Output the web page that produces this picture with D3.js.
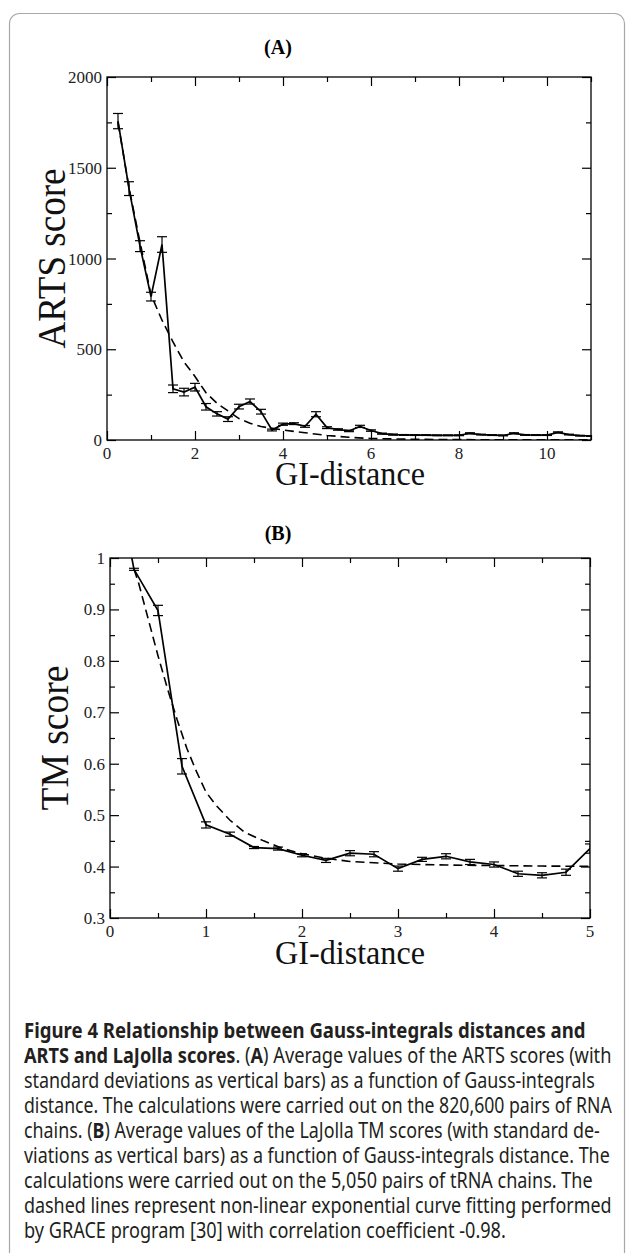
<!DOCTYPE html>
<html><head><meta charset="utf-8">
<script src="https://cdn.jsdelivr.net/npm/d3@7"></script>
<style>
html,body{margin:0;padding:0;background:#fff;}
svg{display:block;}
</style></head>
<body>
<script>
// ---------- Panel A data (ARTS score vs GI-distance) ----------
const xA = [0.25,0.5,0.75,1,1.25,1.5,1.75,2,2.25,2.5,2.75,3,3.25,3.5,3.75,4,4.25,4.5,4.75,5,5.25,5.5,5.75,6,6.25,6.5,6.75,7,7.25,7.5,7.75,8,8.25,8.5,8.75,9,9.25,9.5,9.75,10,10.25,10.5,10.75,11];
const meanA = [1757,1385,1068,790,1077,282,264,291,183,144,115,184,212,156,55,87,90,75,142,68,58,50,75,52,35,30,28,27,27,26,26,26,37,30,27,25,37,28,27,27,42,30,24,22];
const sdA = [42,38,30,24,43,21,21,21,18,12,13,13,14,13,5,6,5,5,14,5,4,4,6,4,3,3,2,2,2,2,2,2,3,2,2,2,3,2,2,2,3,2,2,2];
const fitXA = [0.25,0.5,0.75,1,1.25,1.5,1.75,2,2.25,2.5,2.75,3,3.25,3.5,4,4.5,5,5.5,6,7,8,9,10,11];
const fitA = [1750,1390,1090,800,660,540,430,350,260,202,160,118,92,74,55,40,25,15,8,4,2,1,1,1];
const xTicksA = [0,2,4,6,8,10];
const xMinorA = [1,3,5,7,9,11];
const yTicksA = [0,500,1000,1500,2000];
const yMinorA = [250,750,1250,1750];

// ---------- Panel B data (TM score vs GI-distance) ----------
const xB = [0,0.25,0.5,0.75,1,1.25,1.5,1.75,2,2.25,2.5,2.75,3,3.25,3.5,3.75,4,4.25,4.5,4.75,5];
const meanB = [1.22,0.978,0.898,0.595,0.481,0.463,0.437,0.435,0.422,0.412,0.426,0.424,0.396,0.414,0.420,0.409,0.404,0.386,0.383,0.389,0.435];
const sdB = [0,0.002,0.010,0.015,0.006,0.004,0.002,0.003,0.003,0.004,0.005,0.005,0.005,0.004,0.005,0.005,0.005,0.005,0.005,0.006,0.009];
const fitXB = [0.25,0.3,0.4,0.5,0.6,0.7,0.8,0.9,1.0,1.1,1.25,1.4,1.6,1.8,2.0,2.25,2.5,3,3.5,4,4.5,5];
const fitB = [0.978,0.95,0.88,0.81,0.745,0.685,0.63,0.585,0.545,0.52,0.49,0.467,0.45,0.435,0.425,0.416,0.41,0.405,0.403,0.402,0.401,0.4005];
const xTicksB = [0,1,2,3,4,5];
const xMinorB = [0.5,1.5,2.5,3.5,4.5];
const yTicksB = [0.3,0.4,0.5,0.6,0.7,0.8,0.9,1.0];
const yMinorB = [0.35,0.45,0.55,0.65,0.75,0.85,0.95];

// ---------- Caption ----------
const captionLines = [
  [["Figure 4 Relationship between Gauss-integrals distances and",1]],
  [["ARTS and LaJolla scores",1],[". (",0],["A",1],[") Average values of the ARTS scores (with",0]],
  [["standard deviations as vertical bars) as a function of Gauss-integrals",0]],
  [["distance. The calculations were carried out on the 820,600 pairs of RNA",0]],
  [["chains. (",0],["B",1],[") Average values of the LaJolla TM scores (with standard de-",0]],
  [["viations as vertical bars) as a function of Gauss-integrals distance. The",0]],
  [["calculations were carried out on the 5,050 pairs of tRNA chains. The",0]],
  [["dashed lines represent non-linear exponential curve fitting performed",0]],
  [["by GRACE program [30] with correlation coefficient -0.98.",0]]
];
const captionWidths = [562,588,571,588,576,586,569,588,482];

const W = 626, H = 1253;
const svg = d3.select("body").append("svg").attr("width", W).attr("height", H);
const serif = "'Liberation Serif','Times New Roman',serif";

svg.append("rect").attr("x",9.5).attr("y",13.5).attr("width",615).attr("height",1270)
  .attr("rx",10).attr("fill","none").attr("stroke","#a8a8a8").attr("stroke-width",1.2);

function panel(cfg){
  const x = d3.scaleLinear().domain(cfg.xDomain).range([cfg.left, cfg.right]);
  const y = d3.scaleLinear().domain(cfg.yDomain).range([cfg.bottom, cfg.top]);
  const g = svg.append("g");
  const clipId = "clip" + cfg.id;
  svg.append("clipPath").attr("id", clipId).append("rect")
    .attr("x", cfg.left).attr("y", cfg.top).attr("width", cfg.right-cfg.left).attr("height", cfg.bottom-cfg.top);

  g.append("rect").attr("x",cfg.left).attr("y",cfg.top).attr("width",cfg.right-cfg.left)
    .attr("height",cfg.bottom-cfg.top).attr("fill","none").attr("stroke","#000").attr("stroke-width",1.3);

  const maj = 9, mnr = 5;
  const axes = [
    [d3.axisBottom(x).tickValues(cfg.xTicks).tickSize(-maj), `translate(0,${cfg.bottom})`],
    [d3.axisBottom(x).tickValues(cfg.xMinor).tickSize(-mnr), `translate(0,${cfg.bottom})`],
    [d3.axisTop(x).tickValues(cfg.xTicks).tickSize(-maj), `translate(0,${cfg.top})`],
    [d3.axisTop(x).tickValues(cfg.xMinor).tickSize(-mnr), `translate(0,${cfg.top})`],
    [d3.axisLeft(y).tickValues(cfg.yTicks).tickSize(-maj), `translate(${cfg.left},0)`],
    [d3.axisLeft(y).tickValues(cfg.yMinor).tickSize(-mnr), `translate(${cfg.left},0)`],
    [d3.axisRight(y).tickValues(cfg.yTicks).tickSize(-maj), `translate(${cfg.right},0)`],
    [d3.axisRight(y).tickValues(cfg.yMinor).tickSize(-mnr), `translate(${cfg.right},0)`]
  ];
  axes.forEach(([ax,tr])=>{
    const a = g.append("g").attr("transform",tr).call(ax.tickFormat(""));
    a.select(".domain").remove();
    a.selectAll("line").attr("stroke","#000").attr("stroke-width",1.2);
  });

  g.selectAll(null).data(cfg.xTicks).enter().append("text")
    .attr("x", d=>x(d)).attr("y", cfg.bottom+19).attr("text-anchor","middle")
    .attr("font-family",serif).attr("font-size",17).attr("fill","#222").text(d=>cfg.xFmt(d));
  g.selectAll(null).data(cfg.yTicks).enter().append("text")
    .attr("x", cfg.left-5).attr("y", d=>y(d)+6).attr("text-anchor","end")
    .attr("font-family",serif).attr("font-size",17).attr("fill","#222").text(d=>cfg.yFmt(d));

  g.append("text").attr("x",278).attr("y",cfg.titleY).attr("text-anchor","middle")
    .attr("font-family",serif).attr("font-weight","bold").attr("font-size",20).text(cfg.title);
  g.append("text").attr("x",350).attr("y",cfg.xTitleY).attr("text-anchor","middle")
    .attr("font-family",serif).attr("font-size",34).attr("textLength",150).attr("lengthAdjust","spacingAndGlyphs")
    .attr("fill","#111").text("GI-distance");
  const cy = (cfg.top+cfg.bottom)/2;
  g.append("text").attr("transform",`translate(${cfg.yTitleX},${cy}) rotate(-90)`).attr("text-anchor","middle")
    .attr("font-family",serif).attr("font-size",40).attr("textLength",cfg.yTitleLen).attr("lengthAdjust","spacingAndGlyphs")
    .attr("fill","#111").text(cfg.yTitle);

  const data = cfg.xs.map((v,i)=>({x:v, m:cfg.mean[i], s:cfg.sd[i]}));
  const fit = cfg.fitX.map((v,i)=>({x:v, y:cfg.fit[i]}));
  const pg = g.append("g").attr("clip-path",`url(#${clipId})`);
  pg.append("path").datum(fit).attr("fill","none").attr("stroke","#000").attr("stroke-width",1.6)
    .attr("stroke-dasharray","9,5").attr("d", d3.line().x(d=>x(d.x)).y(d=>y(d.y)));
  pg.append("path").datum(data).attr("fill","none").attr("stroke","#000").attr("stroke-width",1.7)
    .attr("d", d3.line().x(d=>x(d.x)).y(d=>y(d.m)));
  const eb = pg.selectAll(null).data(data.filter(d=>d.s>0)).enter().append("g")
    .attr("stroke","#000").attr("stroke-width",1.2);
  eb.append("line").attr("x1",d=>x(d.x)).attr("x2",d=>x(d.x)).attr("y1",d=>y(d.m-d.s)).attr("y2",d=>y(d.m+d.s));
  eb.append("line").attr("x1",d=>x(d.x)-5).attr("x2",d=>x(d.x)+5).attr("y1",d=>y(d.m+d.s)).attr("y2",d=>y(d.m+d.s));
  eb.append("line").attr("x1",d=>x(d.x)-5).attr("x2",d=>x(d.x)+5).attr("y1",d=>y(d.m-d.s)).attr("y2",d=>y(d.m-d.s));
}

panel({id:"A", left:107, right:591, top:77, bottom:440, xDomain:[0,11], yDomain:[0,2000],
  xTicks:xTicksA, xMinor:xMinorA, yTicks:yTicksA, yMinor:yMinorA,
  xFmt:d=>String(d), yFmt:d=>String(d), title:"(A)", titleY:54, xTitleY:485,
  yTitle:"ARTS score", yTitleX:65, yTitleLen:180,
  xs:xA, mean:meanA, sd:sdA, fitX:fitXA, fit:fitA});

panel({id:"B", left:110, right:590, top:558, bottom:918, xDomain:[0,5], yDomain:[0.3,1.0],
  xTicks:xTicksB, xMinor:xMinorB, yTicks:yTicksB, yMinor:yMinorB,
  xFmt:d=>String(d), yFmt:d=>(d===1?"1":d.toFixed(1)), title:"(B)", titleY:540, xTitleY:964,
  yTitle:"TM score", yTitleX:68, yTitleLen:145,
  xs:xB, mean:meanB, sd:sdB, fitX:fitXB, fit:fitB});

// caption: each line measured, then scaled horizontally to the reference width
const cap = svg.append("g");
captionLines.forEach((segs,i)=>{
  const t = cap.append("text").attr("x",0).attr("y",0)
    .attr("font-family","'Noto Sans','Open Sans',sans-serif").attr("font-size",21).attr("fill","#231f20");
  segs.forEach(([s,b])=>{
    t.append("tspan").attr("font-weight", b ? "bold" : "normal").text(s);
  });
  const w = t.node().getComputedTextLength();
  const sx = captionWidths[i] / w;
  t.attr("transform", `translate(24,${1038 + 25*i}) scale(${sx},1)`);
});
</script>
</body></html>
